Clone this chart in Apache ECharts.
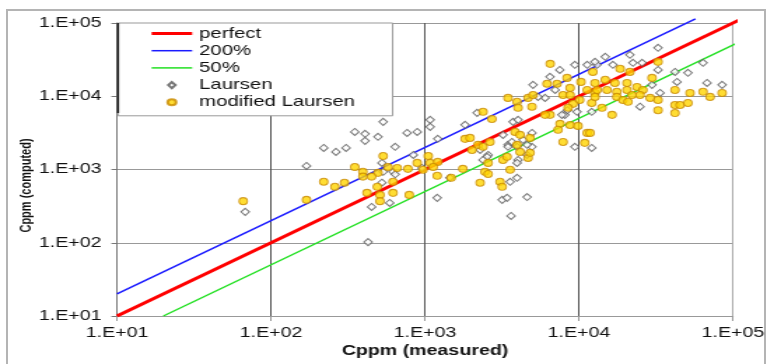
<!DOCTYPE html>
<html>
<head>
<meta charset="utf-8">
<script src="https://cdn.jsdelivr.net/npm/echarts@6/dist/echarts.min.js"></script>
<style>
  html, body { margin: 0; padding: 0; background: #fff; overflow: hidden; width: 767px; height: 364px; }
  #frame { position: absolute; left: 6px; top: 9px; width: 760px; height: 370px; border: 2px solid #b4b4b4; box-sizing: border-box; }
  /* the chart is laid out narrow and widened horizontally, giving the wide lettering */
  #chart { position: absolute; left: 0; top: 0; width: 548px; height: 364px; transform: scaleX(1.39964); transform-origin: 0 0; }
</style>
</head>
<body>
<div id="frame"></div>
<div id="chart"></div>
<script>
// reference lines: perfect agreement, factor 2 over, factor 2 under
const perfectLine = [[10, 10], [110000, 110000]];
const line200 = [[10, 20], [57000, 114000]];
const line50 = [[20, 10], [110000, 55000]];

// [Cppm measured, Cppm computed]
const laursen = [
  [68,264],[170,1120],[220,1970],[264,1740],[307,1970],[350,3260],[427,102],[535,4470],[408,3070],[408,2460],
  [495,2790],[640,2040],[765,3160],[890,3260],[1080,4760],[1080,3820],[1210,2620],[1820,4070],[2180,5930],[525,1230],
  [620,930],[525,660],[450,308],[590,350],[1200,410],[1450,770],[955,1050],[840,1580],[535,930],[640,860],
  [3170,385],[3410,410],[4600,420],[3620,232],[3960,770],[2570,1580],[3460,2170],[5030,14300],[6480,18400],[11300,26900],
  [13100,26900],[6020,9500],[5420,9800],[3730,4470],[4020,4760],[3210,2970],[3670,2380],[3460,2040],[2280,1850],[2530,1490],
  [4020,1350],[4950,2040],[9400,2040],[8100,5570],[9700,6130],[7500,22900],[12100,6130],[32600,45900],[21400,36800],[14800,34500],
  [12700,29500],[22400,28600],[25700,28600],[32600,22900],[42000,21500],[51000,20900],[43300,15700],[63900,28600],[67800,15200],[85000,14300],
  [33600,11100],[24900,7200],[29800,14300],[7000,12200],[9400,26900],[16600,26900],[8400,6450],[7750,5570],[4330,2540],[4950,3160],
  [4600,2170],[3960,2040],[4600,1580],[3960,1230],[12100,1970],[2380,1350],[3570,680]
];

const modifiedLaursen = [
  [66,370],[170,385],[220,680],[260,580],[300,660],[350,1080],[395,930],[495,900],[535,1530],[575,1080],
  [660,1050],[420,480],[510,450],[510,370],[620,480],[450,800],[395,800],[620,680],[790,450],[775,1020],
  [890,1230],[1050,1530],[1080,1230],[1210,1270],[970,990],[1130,1080],[1200,820],[1760,1020],[1480,770],[1820,2620],
  [2020,1850],[2210,2170],[490,580],[2380,2040],[2640,2380],[2570,1230],[2450,930],[2570,870],[2280,660],[3070,680],
  [3170,580],[3570,990],[3210,1350],[3410,1490],[3960,2170],[4140,1740],[4670,1440],[4810,1690],
  [6500,27700],[2380,6130],[2720,4900],[3460,9500],[3960,8400],[4020,6950],[4670,9500],[5030,10400],[4950,7200],[6200,14800],
  [7200,14800],[8370,17800],[8750,13000],[7880,10400],[8750,10400],[10300,15700],[11300,12200],[10100,8900],[9150,7870],[8500,6950],
  [6480,5570],[6020,5570],[7530,4200],[8750,4050],[9850,3940],[7310,3480],[7880,2380],[11300,3160],[10900,2310],[3840,3260],
  [4140,2970],[4810,2700],[1960,2700],[12100,8100],[12700,15200],[12700,11100],
  [32600,29500],[12300,21500],[18500,23700],[21400,21500],[29800,17800],[14800,16800],[17100,15200],[20500,15200],[23800,13400],[26000,12200],
  [13100,12200],[15200,12200],[17600,11500],[20500,12200],[22100,10400],[24900,10400],[12700,9800],[17600,9800],[19300,8900],[20800,8400],
  [14100,6950],[16400,5570],[29000,9500],[32600,8900],[32600,6450],[42000,12200],[52600,11100],[63900,11500],[71000,9800],[85000,11100],
  [42000,7600],[45300,7600],[51000,8100],[42000,5900],[11800,3160]
];

const tickLabels = ['1.E+01', '1.E+02', '1.E+03', '1.E+04', '1.E+05'];
const seriesNames = ['perfect', '200%', '50%', 'Laursen', 'modified Laursen'];

const FONT = '"Liberation Sans", Arial, sans-serif';
const decadeLabel = v => tickLabels[Math.round(Math.log10(v)) - 1] || '';

// legend keys: plain strokes for the lines, a small diamond for the hollow markers
const thickKey = 'path://M0,0H58V6H0Z';
const thinKey = 'path://M0,0H58V3H0Z';
const diamondKey = 'path://M5,0L10,6L5,12L0,6Z';

const chart = echarts.init(document.getElementById('chart'), null, { renderer: 'canvas' });

chart.setOption({
  animation: false,
  grid: { left: 83.6, right: 24.3, top: 23, bottom: 48, outerBoundsMode: 'none' },
  legend: {
    orient: 'vertical', left: 84.3, top: 23,
    data: [
      { name: seriesNames[0], icon: thickKey },
      { name: seriesNames[1], icon: thinKey },
      { name: seriesNames[2], icon: thinKey },
      { name: seriesNames[3], icon: diamondKey },
      { name: seriesNames[4] }
    ],
    itemWidth: 29, itemHeight: 6, itemGap: 2.2,
    padding: [3, 27, 6, 24],
    backgroundColor: '#fff', borderColor: '#999', borderWidth: 1,
    selectedMode: false,
    textStyle: { fontFamily: FONT, fontSize: 14.5, color: '#111' }
  },
  graphic: [{
    type: 'line', z: 100,
    shape: { x1: 84.3, y1: 23, x2: 84.3, y2: 113 },
    style: { stroke: '#222', lineWidth: 1.6 }
  }],
  xAxis: {
    type: 'log', logBase: 10, min: 10, max: 100000,
    name: 'Cppm (measured)', nameLocation: 'middle', nameGap: 28, nameMoveOverlap: false,
    nameTextStyle: { fontFamily: FONT, fontSize: 14, fontWeight: 'bold', color: '#111' },
    axisLine: { show: true, lineStyle: { color: '#999', width: 1 } },
    axisTick: { show: true, length: 5, lineStyle: { color: '#999' } },
    minorTick: { show: false },
    axisLabel: { fontFamily: FONT, fontSize: 14, color: '#111', margin: 10, formatter: decadeLabel },
    splitLine: { show: true, lineStyle: { color: ['#aaa', '#555', '#555', '#555', '#aaa'], width: 1 } }
  },
  yAxis: {
    type: 'log', logBase: 10, min: 10, max: 100000,
    name: 'Cppm (computed)', nameLocation: 'middle', nameGap: 59, nameRotate: 90, nameMoveOverlap: false,
    nameTextStyle: { fontFamily: FONT, fontSize: 11, fontWeight: 'bold', color: '#111', padding: [0, 32, 0, 0] },
    axisLine: { show: true, lineStyle: { color: '#777', width: 1 } },
    axisTick: { show: true, length: 4, lineStyle: { color: '#777' } },
    minorTick: { show: false },
    axisLabel: { fontFamily: FONT, fontSize: 14, color: '#111', margin: 11, formatter: decadeLabel },
    splitLine: { show: true, lineStyle: { color: '#999', width: 1 } }
  },
  series: [
    { name: seriesNames[0], type: 'line', data: perfectLine, symbol: 'none', clip: false, z: 2,
      color: '#ff0000', lineStyle: { color: '#ff0000', width: 3 } },
    { name: seriesNames[1], type: 'line', data: line200, symbol: 'none', clip: false, z: 2,
      color: '#1a1aff', lineStyle: { color: '#1a1aff', width: 1.5 } },
    { name: seriesNames[2], type: 'line', data: line50, symbol: 'none', clip: false, z: 2,
      color: '#22e022', lineStyle: { color: '#22e022', width: 1.5 } },
    { name: seriesNames[3], type: 'scatter', data: laursen, symbol: 'diamond', symbolSize: [6, 7], z: 3,
      itemStyle: { color: '#ffffff', borderColor: '#555', borderWidth: 1 } },
    { name: seriesNames[4], type: 'scatter', data: modifiedLaursen, symbol: 'circle', symbolSize: [6, 7], z: 4,
      itemStyle: { color: '#ffd400', borderColor: '#c88a00', borderWidth: 1 } }
  ]
});
</script>
</body>
</html>
